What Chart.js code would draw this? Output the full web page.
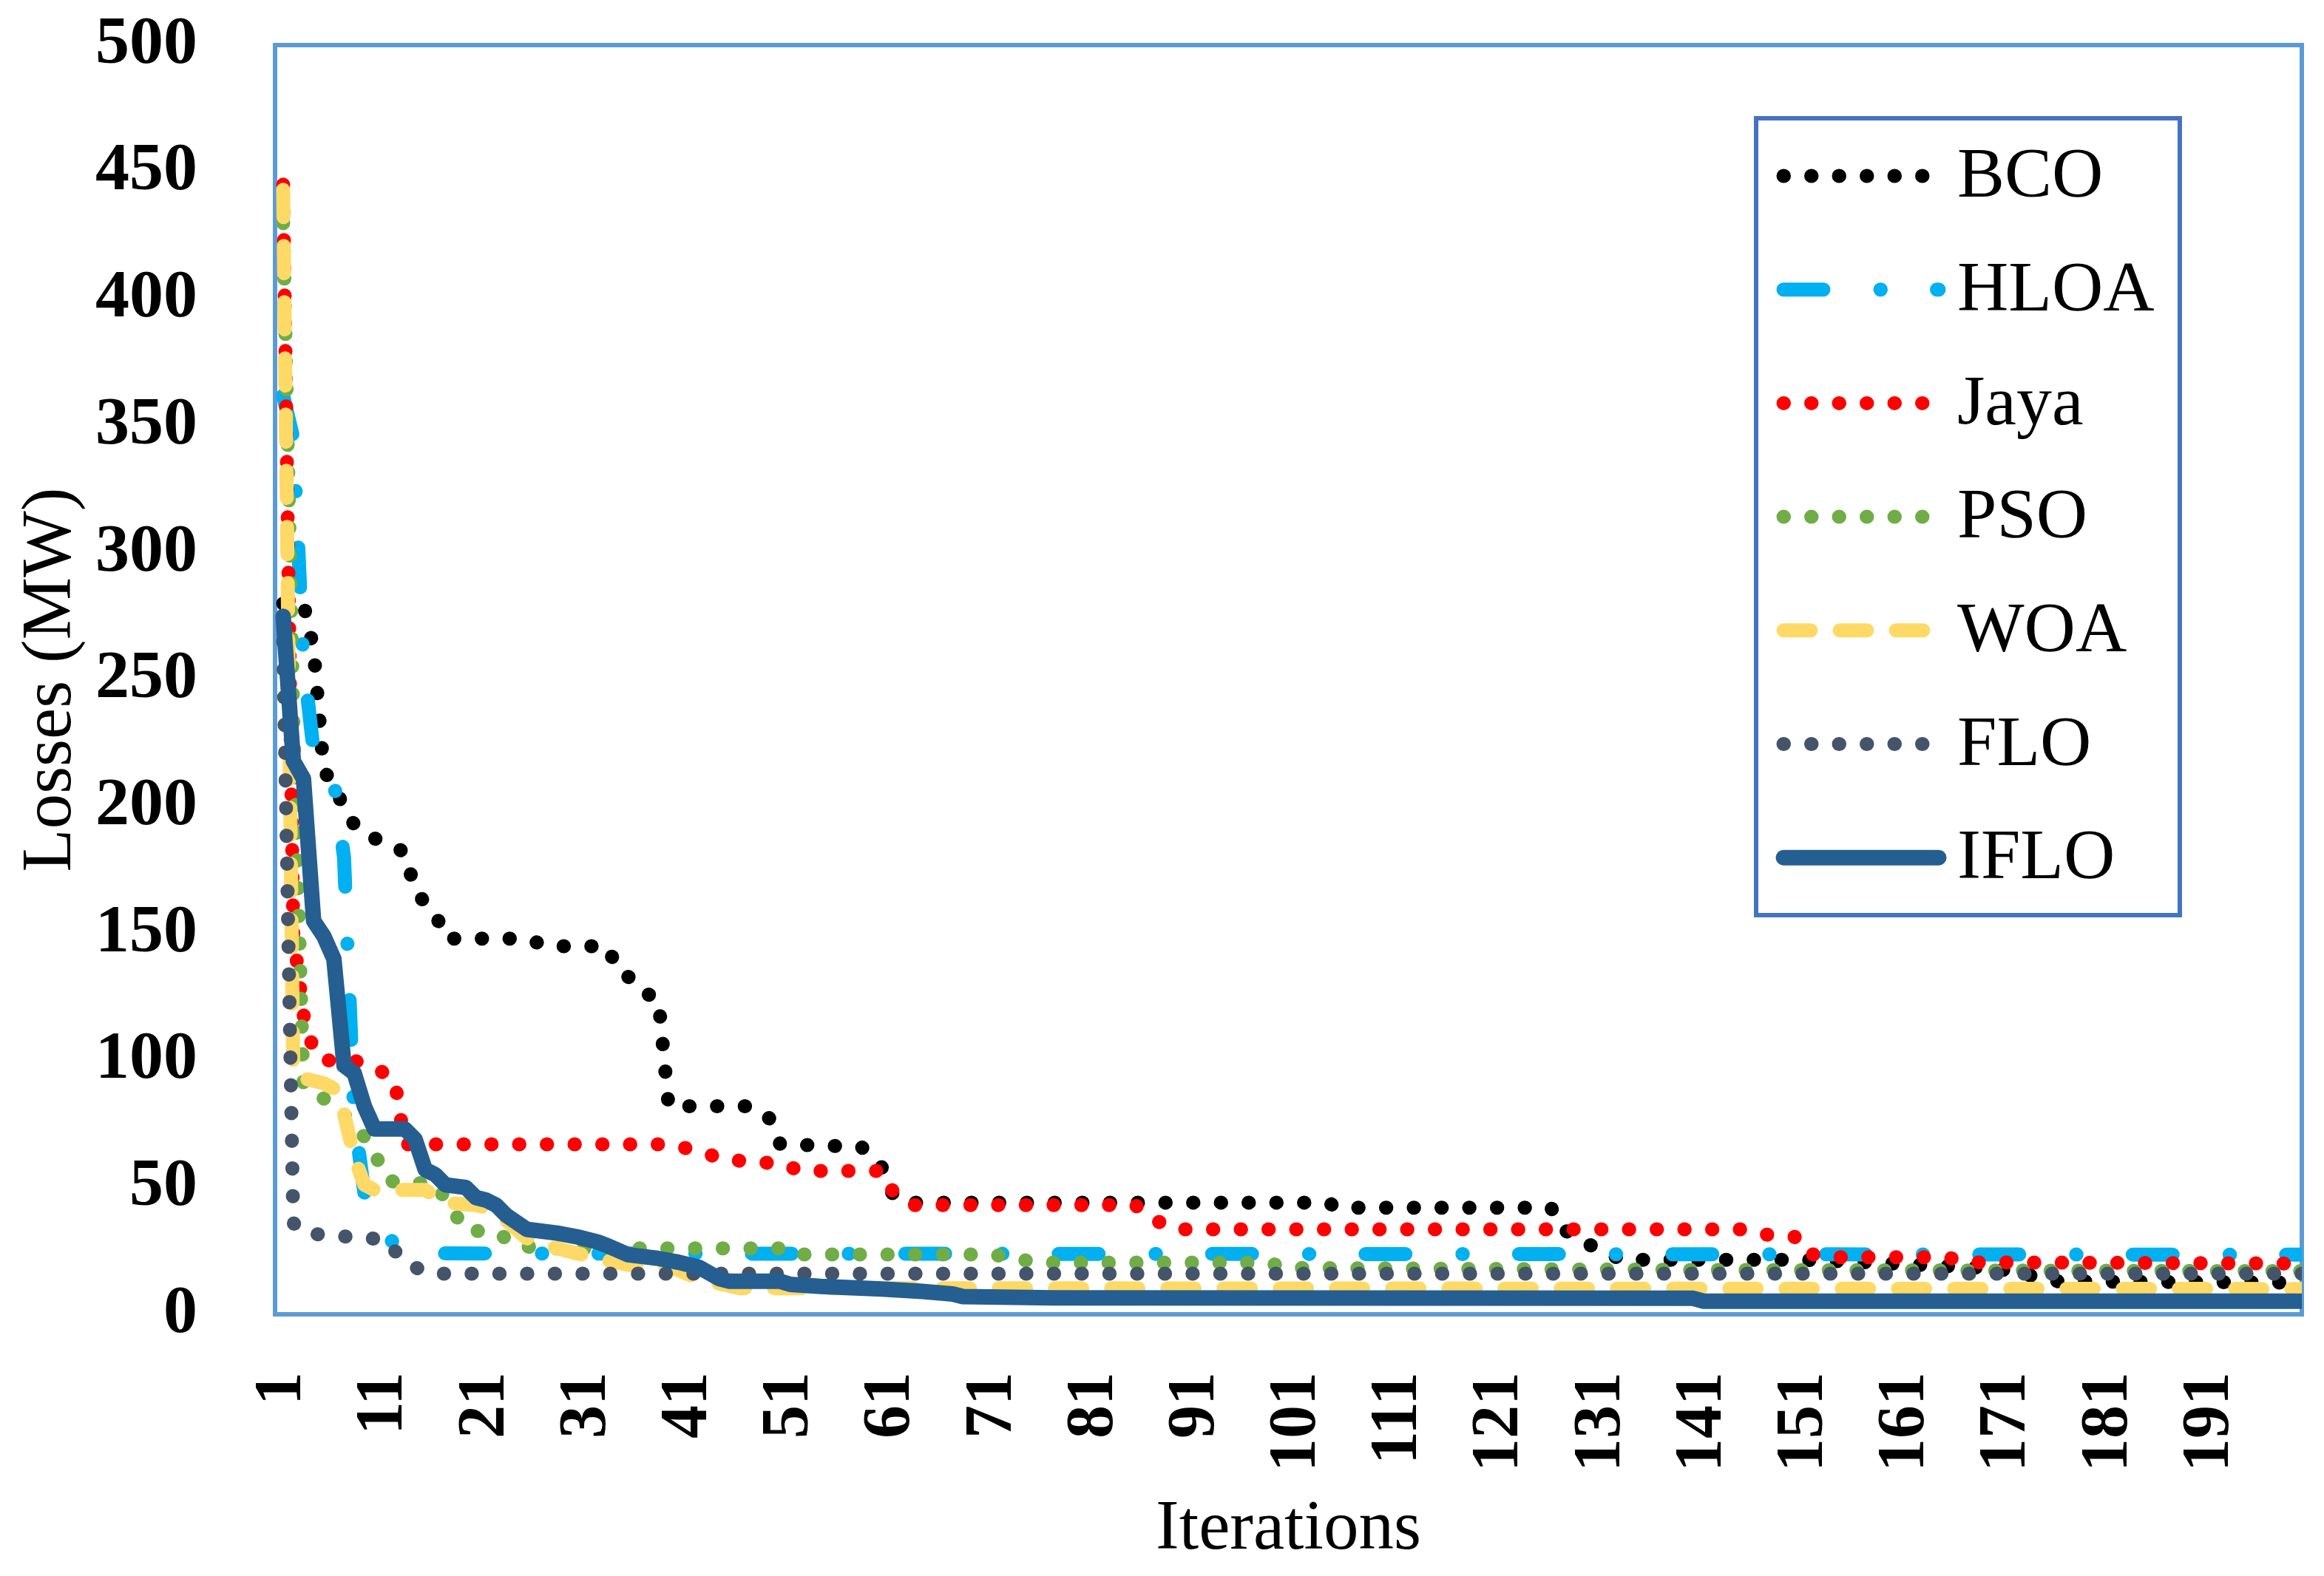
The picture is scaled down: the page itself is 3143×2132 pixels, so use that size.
<!DOCTYPE html>
<html>
<head>
<meta charset="utf-8">
<script src="https://cdn.jsdelivr.net/npm/chart.js@4.4.1/dist/chart.umd.min.js"></script>
<style>
    html, body { margin: 0; padding: 0; background: #fff; }
    #wrap { width: 3143px; height: 2132px; }
</style>
</head>
<body>
<div id="wrap"><canvas id="lossChart" width="3143" height="2132"></canvas></div>
<script>
// X 軸刻度（迭代次數）
const iterTicks = [1, 11, 21, 31, 41, 51, 61, 71, 81, 91, 101, 111, 121, 131, 141, 151, 161, 171, 181, 191];

// 各演算法的收斂曲線轉折點 [迭代次數, 損失 MW]
const bcoPts = [[1, 280], [3, 280], [4, 262], [5, 214], [6, 209], [7, 199], [8, 193], [9, 189], [11, 186], [13, 182],
    [14, 167], [15, 162], [16, 158], [17, 148], [25, 148], [27, 145], [33, 145], [34, 135], [36, 131], [37, 126],
    [38, 124], [39, 82], [47, 82], [49, 77], [50, 67], [58, 66], [60, 58], [61, 48], [62, 44], [104, 44], [105, 42],
    [126, 42], [127, 34], [129, 29], [131, 25], [133, 21.5], [151, 21.5], [157, 20.5], [170, 18], [176, 13], [200, 12.5]];
const hloaPts = [[1, 362], [2, 345], [3, 257], [4, 222], [6, 210], [7, 180], [8, 78], [9, 48], [10, 42], [11, 31],
    [13, 25], [15, 24], [200, 23.5]];
const jayaPts = [[1, 445], [2, 150], [3, 118], [4, 104], [5, 100], [8, 100], [10, 97], [11, 95], [12, 92], [13, 67],
    [38, 67], [40, 66], [42, 64.5], [44, 61.5], [47, 60], [50, 59.5], [52, 56.5], [60, 56.5], [61, 49], [63, 43],
    [85, 43], [87, 37], [89, 33.5], [145, 33.5], [147, 31.5], [150, 30.5], [151, 24], [154, 22.5], [165, 22.5],
    [167, 20.5], [200, 20]];
const psoPts = [[1, 430], [2, 235], [3, 90], [5, 85], [6, 83], [9, 70], [10, 64], [11, 54], [12, 52], [16, 51.5],
    [19, 33], [22, 32.5], [24, 27], [27, 26], [51, 26], [52, 23.6], [71, 23.6], [73, 21.8], [76, 20.4], [98, 20.4],
    [100, 18.3], [140, 17.5], [200, 17]];
const woaPts = [[1, 443], [2, 95], [3, 93], [5, 91], [6, 89], [7, 79], [8, 62], [9, 51], [10, 49], [15, 49], [17, 44],
    [20, 43], [21, 42], [23, 37], [25, 30], [28, 26], [32, 22], [35, 19.5], [39, 19], [42, 14], [46, 10.3], [200, 10]];
const floPts = [[1, 265], [2, 36], [3, 32], [6, 31], [11, 29.5], [12, 25], [13, 21], [14, 18.5], [15, 17], [16, 16],
    [200, 16]];
const ifloPts = [[1, 275], [2, 218], [3, 211], [4, 155], [5, 149], [6, 140], [7, 98], [8, 95], [9, 82], [10, 73],
    [13, 73], [14, 69], [15, 57], [16, 55], [17, 51], [19, 50], [20, 46], [21, 45], [22, 43], [23, 39], [25, 33.5],
    [28, 32], [30, 30.5], [32, 28.5], [33, 27], [35, 23.5], [38, 22], [40, 20.5], [42, 18.5], [44, 14], [45, 13],
    [50, 13], [51, 11.8], [54, 11], [60, 10], [64, 9], [67, 8], [68, 7], [77, 6.5], [140, 6.3], [141, 5.2], [200, 5.2]];

const seriesNames = ['BCO', 'HLOA', 'Jaya', 'PSO', 'WOA', 'FLO', 'IFLO'];
const seriesPts = [bcoPts, hloaPts, jayaPts, psoPts, woaPts, floPts, ifloPts];

// 線條樣式
const seriesColors = ['#000000', '#00B0F0', '#FF0000', '#70AD47', '#FFD966', '#44546A', '#255E91'];
const dotDash = [0.5, 37];
const seriesDash = [dotDash, [54, 77, 0.5, 76], dotDash, dotDash, [37, 39], dotDash, []];
const seriesWidth = [19, 19, 19, 19, 19, 19, 21];

const serif = '"Liberation Serif", "Times New Roman", serif';

// 繪圖區外框
const plotFrame = {
    id: 'plotFrame',
    beforeDatasetsDraw(chart) {
        const {ctx, chartArea: a} = chart;
        ctx.save();
        ctx.lineWidth = 6;
        ctx.strokeStyle = '#5B9BD5';
        ctx.strokeRect(a.left, a.top, a.right - a.left, a.bottom - a.top);
        ctx.restore();
    }
};

// 圖例（框在繪圖區右上）
const boxLegend = {
    id: 'boxLegend',
    afterDraw(chart) {
        const ctx = chart.ctx;
        const bx = 2375, by = 160, bw = 573, bh = 1078;
        const rowTop = 238, rowGap = 153.7;
        const lineStart = 2412, lineEnd = 2622, textX = 2647;
        ctx.save();
        ctx.fillStyle = '#fff';
        ctx.fillRect(bx, by, bw, bh);
        ctx.lineWidth = 6;
        ctx.strokeStyle = '#4472C4';
        ctx.strokeRect(bx, by, bw, bh);
        chart.data.datasets.forEach((ds, i) => {
            const y = rowTop + i * rowGap;
            ctx.beginPath();
            ctx.setLineDash(ds.borderDash);
            ctx.lineDashOffset = 0;
            ctx.lineCap = 'round';
            ctx.lineWidth = ds.borderWidth;
            ctx.strokeStyle = ds.borderColor;
            ctx.moveTo(lineStart, y);
            ctx.lineTo(lineEnd, y);
            ctx.stroke();
            ctx.setLineDash([]);
            ctx.fillStyle = '#000';
            ctx.font = '96px ' + serif;
            ctx.textBaseline = 'middle';
            ctx.textAlign = 'left';
            ctx.fillText(ds.label, textX, y + 3);
        });
        ctx.restore();
    }
};

const datasets = seriesNames.map((name, i) => ({
    label: name,
    data: seriesPts[i].map(p => ({x: p[0], y: p[1]})),
    borderColor: seriesColors[i],
    backgroundColor: seriesColors[i],
    borderWidth: seriesWidth[i],
    borderDash: seriesDash[i],
    borderCapStyle: 'round',
    borderJoinStyle: 'round',
    pointRadius: 0,
    tension: 0,
    fill: false,
    order: seriesNames.length - 1 - i   // 後面的系列畫在上層
}));

let ctx = document.getElementById('lossChart').getContext('2d');
window.lossChart = new Chart(ctx, {
    type: 'line',
    data: {datasets: datasets},
    options: {
        responsive: false,
        devicePixelRatio: 1,
        animation: false,
        layout: {
            padding: {top: 61, right: 30, bottom: 0, left: 0}
        },
        plugins: {
            legend: {display: false},
            tooltip: {enabled: false}
        },
        scales: {
            x: {
                type: 'linear',
                min: 0.2,
                max: 200,
                afterBuildTicks: scale => {
                    scale.ticks = iterTicks.map(v => ({value: v}));
                },
                afterFit: scale => {
                    scale.height = 354;
                    // 不讓刻度文字再推擠繪圖區
                    scale.paddingLeft = 0;
                    scale.paddingRight = 0;
                },
                ticks: {
                    autoSkip: false,
                    minRotation: 90,
                    maxRotation: 90,
                    padding: 70,
                    color: '#000',
                    font: {family: serif, size: 90, weight: 'bold'},
                    callback: v => String(v)
                },
                grid: {display: false},
                border: {display: false},
                title: {
                    display: true,
                    text: 'Iterations',
                    color: '#000',
                    font: {family: serif, size: 95},
                    padding: {top: 0, bottom: 5}
                }
            },
            y: {
                min: 0,
                max: 500,
                afterFit: scale => {
                    scale.width = 372;
                    scale.paddingTop = 0;
                    scale.paddingBottom = 0;
                },
                ticks: {
                    stepSize: 50,
                    padding: 97,
                    color: '#000',
                    font: {family: serif, size: 92, weight: 'bold'}
                },
                grid: {display: false},
                border: {display: false},
                title: {
                    display: true,
                    text: 'Losses (MW)',
                    color: '#000',
                    font: {family: serif, size: 95},
                    padding: {top: 13, bottom: 0}
                }
            }
        }
    },
    plugins: [plotFrame, boxLegend]
});
</script>
</body>
</html>
